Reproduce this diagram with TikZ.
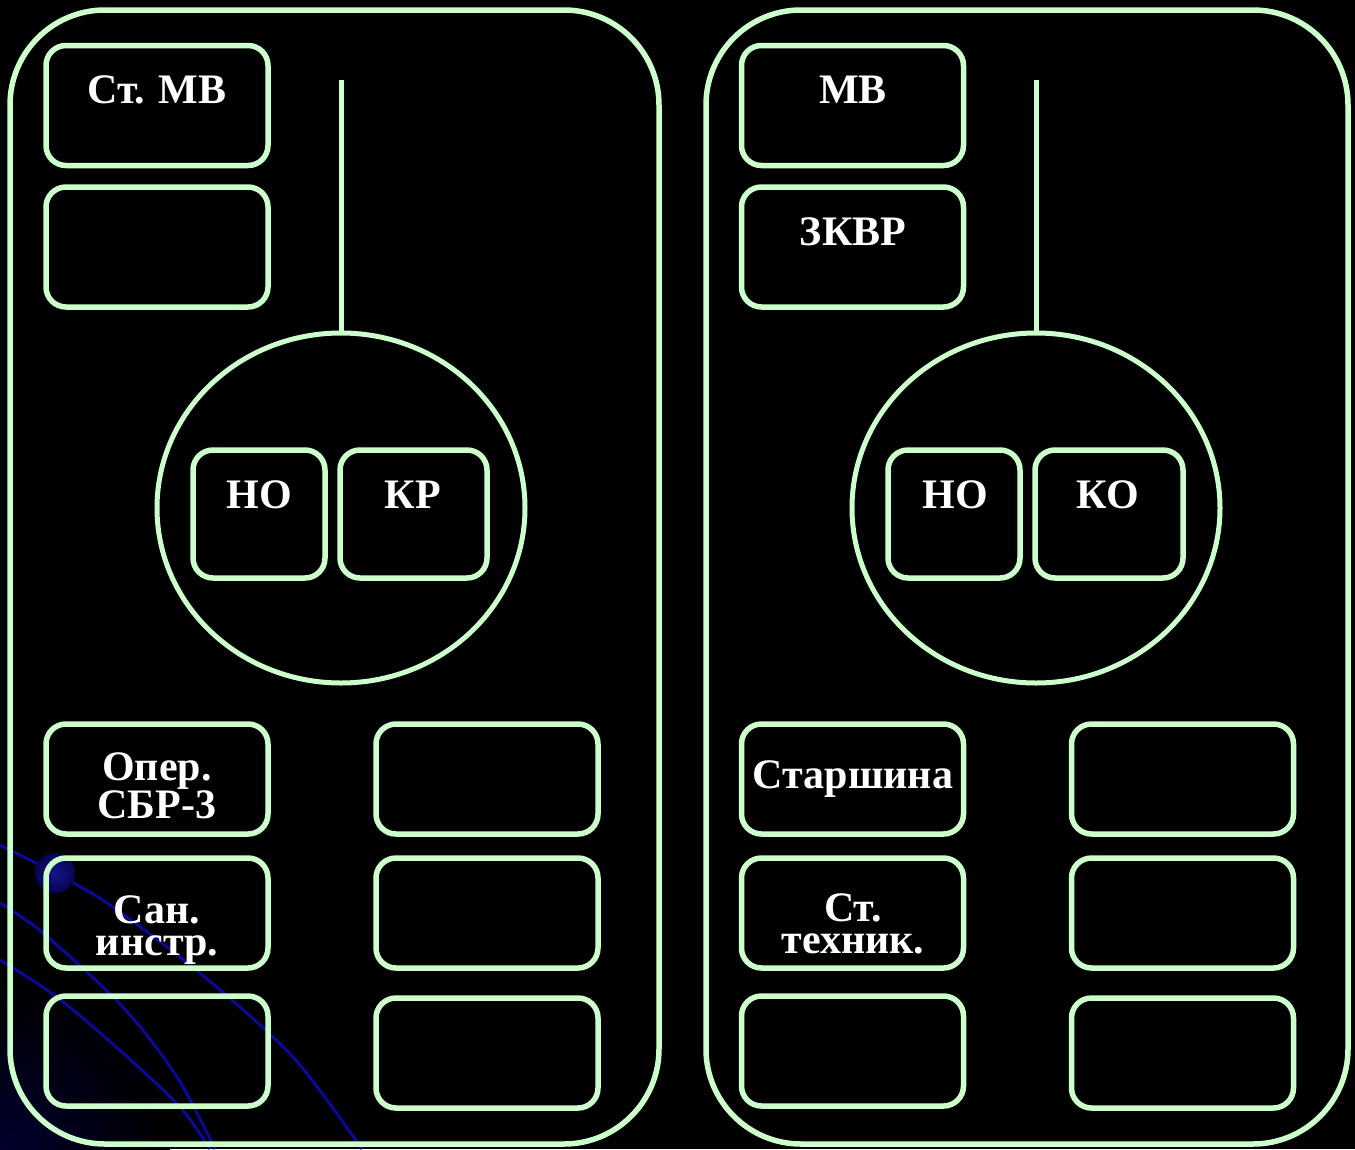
\documentclass[tikz,border=0pt]{standalone}
\usepackage{fontspec}
\setmainfont{Liberation Serif}
\usetikzlibrary{shapes.geometric}
\definecolor{lg}{HTML}{CCFFCC}
\definecolor{deco}{RGB}{10,10,150}
\begin{document}
\begin{tikzpicture}[x=1pt,y=-1pt,
  bigbox/.style={draw=lg,line width=5.5pt,rounded corners=95pt},
  cell/.style={draw=lg,line width=5.5pt,rounded corners=20pt,inner sep=0pt,minimum width=222pt,minimum height=110pt},
  topcell/.style={cell,minimum height=120pt},
  sqcell/.style={draw=lg,line width=5.5pt,rounded corners=20pt,inner sep=0pt,minimum height=128pt},
  ring/.style={draw=lg,line width=5pt,ellipse,inner sep=0pt,minimum width=368pt,minimum height=350pt},
  lbl/.style={text=white,inner sep=0pt,anchor=base,align=center,font=\bfseries\fontsize{42}{32}\selectfont},
  link/.style={draw=lg,line width=5pt},
  decoline/.style={draw=deco,line width=3pt}]
\useasboundingbox (0,0) rectangle (1355,1149);
\fill[black] (0,0) rectangle (1355,1149);
% decorative background
\begin{scope}
\clip (0,0) rectangle (1355,1149);
\shade[inner color={rgb,255:red,0;green,0;blue,45},outer color=black] (0,1149) circle (170);
\draw[decoline] plot[smooth] coordinates {(0,845) (55,873) (110,905) (200,973) (293,1057) (362,1149)};
\draw[decoline] plot[smooth] coordinates {(0,903) (43,933) (123,1007) (177,1077) (215,1149)};
\draw[decoline] plot[smooth] coordinates {(0,960) (57,997) (123,1053) (180,1107) (210,1149)};
\shade[inner color={rgb,255:red,20;green,20;blue,140},outer color={rgb,255:red,5;green,5;blue,80}] (55,873) circle (20);
\end{scope}
% big boxes
\draw[bigbox] (10,10) rectangle (659,1144);
\draw[bigbox] (706,10) rectangle (1348,1144);
% left panel
\node[topcell] (stmv) at (157,105.5) {};
\node[topcell] (l2) at (157,247) {};
\node[ring] (ringL) at (341,508) {};
\coordinate (topL) at (341,80);
\draw[link] (topL) -- (ringL.north);
\node[sqcell,minimum width=132pt] (noL) at (259,514) {};
\node[sqcell,minimum width=147pt] (kr) at (413.5,514) {};
\node[cell] (oper) at (157,779) {};
\node[cell] (san) at (157,913) {};
\node[cell] (l5) at (157,1051) {};
\node[cell] (r1) at (487,779) {};
\node[cell] (r2) at (487,913) {};
\node[cell] (r3) at (487,1053) {};
% right panel
\node[topcell] (mv) at (852.5,105.5) {};
\node[topcell] (zkvr) at (852.5,247) {};
\node[ring] (ringR) at (1036,508) {};
\coordinate (topR) at (1036,80);
\draw[link] (topR) -- (ringR.north);
\node[sqcell,minimum width=132pt] (noR) at (954,514) {};
\node[sqcell,minimum width=148pt] (ko) at (1109,514) {};
\node[cell] (star) at (852.5,779) {};
\node[cell] (tech) at (852.5,913) {};
\node[cell] (b5) at (852.5,1051) {};
\node[cell] (s1) at (1182.5,779) {};
\node[cell] (s2) at (1182.5,913) {};
\node[cell] (s3) at (1182.5,1053) {};
% labels
\node[lbl] (tstmv) at (157,103) {Ст. МВ};
\node[lbl] (tnoL) at (259,508) {НО};
\node[lbl] (tkr) at (413,508) {КР};
\node[lbl] (toper) at (157,818) {Опер.\\СБР-3};
\node[lbl] (tsan) at (157,955) {Сан.\\инстр.};
\node[lbl] (tmv) at (853,103) {МВ};
\node[lbl] (tzkvr) at (853,245) {ЗКВР};
\node[lbl] (tnoR) at (955,508) {НО};
\node[lbl] (tko) at (1108,508) {КО};
\node[lbl] (tstar) at (853,788) {Старшина};
\node[lbl] (ttech) at (853,953) {Ст.\\техник.};
\end{tikzpicture}
\end{document}
